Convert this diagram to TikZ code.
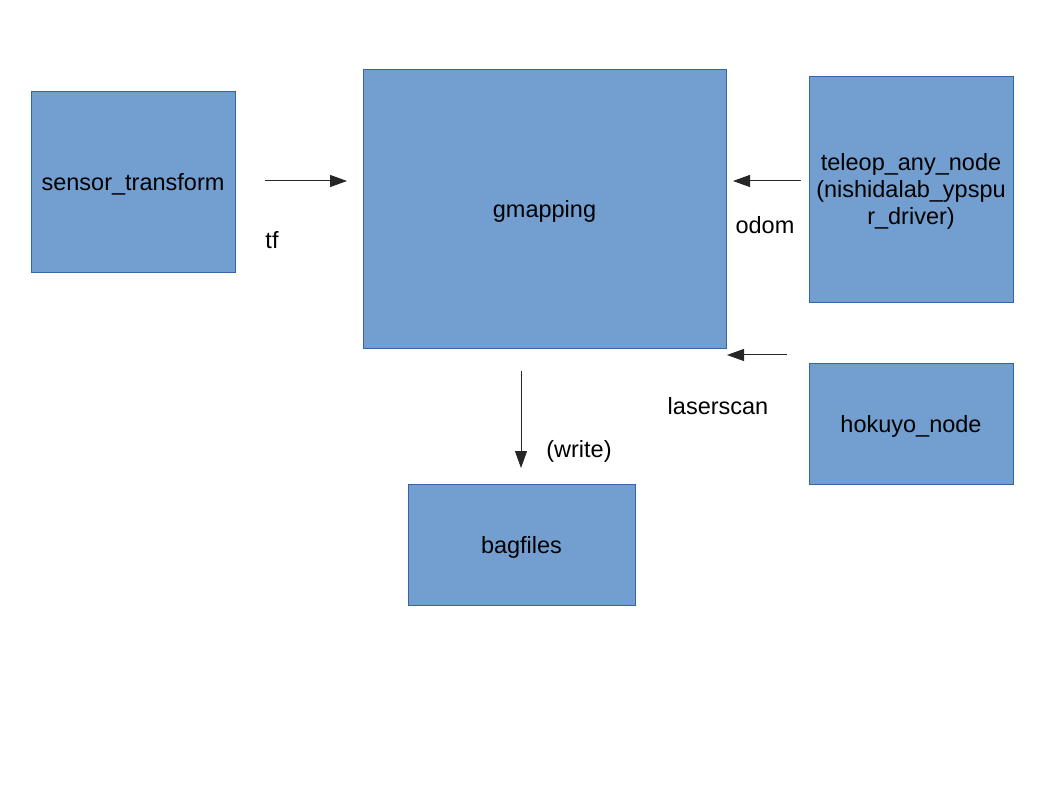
\documentclass[tikz,border=0pt]{standalone}
\usepackage{fontspec}
\setmainfont{Liberation Sans}
\usetikzlibrary{arrows.meta}
\definecolor{boxfill}{HTML}{729FCF}
\definecolor{boxline}{HTML}{3465A4}
\begin{document}
\begin{tikzpicture}[x=1pt,y=-1pt,
  blk/.style={draw=boxline,fill=boxfill,line width=0.8pt,inner sep=0pt,align=center,
    font=\fontsize{23.5}{27}\selectfont},
  lbl/.style={font=\fontsize{23.5}{27}\selectfont,inner sep=0pt,yshift=-2.5pt},
  txt/.style={lbl,align=center},
  conn/.style={draw=black!85,line width=1pt,-{Triangle[length=17pt,width=12pt]}}]
\useasboundingbox (0,0) rectangle (1058,794);
\node[blk,minimum width=204pt,minimum height=181pt,label={[txt]center:sensor\_transform}] (sensor) at (133,181.5) {};
\node[blk,minimum width=363pt,minimum height=279pt,label={[txt]center:gmapping}] (gmap) at (544.5,208.5) {};
\node[blk,minimum width=204pt,minimum height=226pt,label={[txt]center:teleop\_any\_node\\(nishidalab\_ypspu\\r\_driver)}] (teleop) at (911,189) {};
\node[blk,minimum width=204pt,minimum height=121pt,label={[txt]center:hokuyo\_node}] (hokuyo) at (911,423.5) {};
\node[blk,minimum width=227pt,minimum height=121pt,label={[txt]center:bagfiles}] (bag) at (521.5,544.5) {};
\coordinate (tfs) at (265,181);
\coordinate (tfe) at (347,181);
\coordinate (ods) at (801,181);
\coordinate (ode) at (733,181);
\coordinate (las) at (787,355);
\coordinate (lae) at (727,355);
\coordinate (wrs) at (521,371);
\coordinate (wre) at (521,468);
\draw[conn] (tfs) -- (tfe);
\draw[conn] (ods) -- (ode);
\draw[conn] (las) -- (lae);
\draw[conn] (wrs) -- (wre);
\node[lbl] (ltf) at (272,238) {tf};
\node[lbl] (lod) at (765,223) {odom};
\node[lbl] (lla) at (718,404) {laserscan};
\node[lbl] (lwr) at (579,449) {(write)};
\end{tikzpicture}
\end{document}
